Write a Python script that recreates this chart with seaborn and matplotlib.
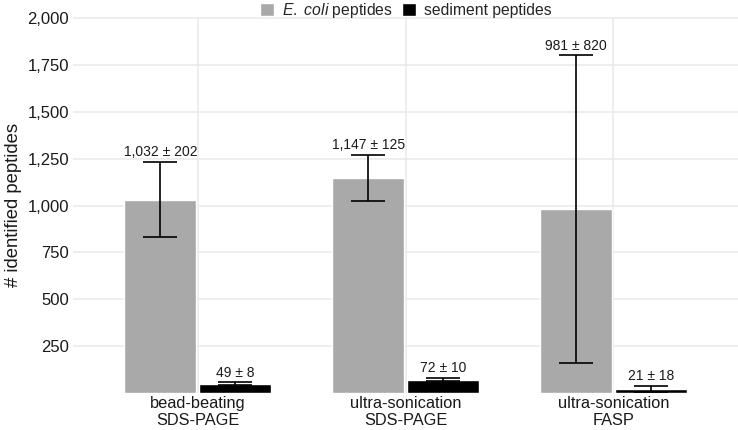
import pandas as pd
import seaborn as sns
import matplotlib.pyplot as plt

# data
methods = ["bead-beating\nSDS-PAGE", "ultra-sonication\nSDS-PAGE", "ultra-sonication\nFASP"]
ecoli_mean = [1032, 1147, 981]
ecoli_sd = [202, 125, 820]
sediment_mean = [49, 72, 21]
sediment_sd = [8, 10, 18]
groups = [r"$\mathit{E.\ coli}$ peptides", "sediment peptides"]
y_ticks = [250, 500, 750, 1000, 1250, 1500, 1750, 2000]

df = pd.DataFrame({
    "method": methods * 2,
    "group": [groups[0]] * 3 + [groups[1]] * 3,
    "mean": ecoli_mean + sediment_mean,
    "sd": ecoli_sd + sediment_sd,
})

sns.set_theme(style="whitegrid")
plt.rcParams["font.family"] = ["Liberation Sans", "DejaVu Sans"]
plt.rcParams["mathtext.fontset"] = "custom"
plt.rcParams["mathtext.it"] = "Liberation Sans:italic"
plt.rcParams["mathtext.rm"] = "Liberation Sans"

fig = plt.figure(figsize=(7.38, 4.30), dpi=100)
ax = fig.add_axes([0.099, 0.086, 0.901, 0.874])

sns.barplot(data=df, x="method", y="mean", hue="group", order=methods,
            hue_order=groups, palette=["#a9a9a9", "black"],
            width=0.72, gap=0.04, errorbar=None, saturation=1, ax=ax)

# error bars + labels at the bar centres seaborn chose
bars = [p for p in ax.patches if p.get_height() > 0]
bars = sorted(bars, key=lambda p: p.get_x())
rows = []
for i in range(3):
    rows.append((ecoli_mean[i], ecoli_sd[i]))
    rows.append((sediment_mean[i], sediment_sd[i]))
for p, (m, s) in zip(bars, rows):
    cx = p.get_x() + p.get_width() / 2
    ax.errorbar(cx, m, yerr=s, color="black", lw=1.2, capsize=12, capthick=1.2)
    ax.text(cx, m + s + 12, f"{m:,} \u00b1 {s}", ha="center", va="bottom",
            fontsize=10, color="#1a1a1a")

ax.set_xlim(-0.6, 2.6)
ax.set_ylim(0, 2005)
ax.set_yticks(y_ticks)
ax.set_yticklabels([f"{v:,}" for v in y_ticks])
ax.set_xlabel("")
ax.set_ylabel("# identified peptides", fontsize=13.3, color="#1a1a1a")
ax.tick_params(axis="y", labelsize=12, colors="#1a1a1a", length=0, pad=3)
ax.tick_params(axis="x", labelsize=11.8, colors="#1a1a1a", length=0, pad=2)
for s in ax.spines.values():
    s.set_visible(False)
ax.grid(True, color="#ebebeb", lw=1.2)
ax.set_axisbelow(True)

ax.legend(loc="center", bbox_to_anchor=(0.55, 1 - 10 / 430),
          bbox_transform=fig.transFigure, ncol=2, frameon=False,
          fontsize=11.3, handlelength=0.9, handleheight=0.9, columnspacing=0.6,
          handletextpad=0.5, borderaxespad=0, borderpad=0)

fig.savefig("out.png", dpi=100)
